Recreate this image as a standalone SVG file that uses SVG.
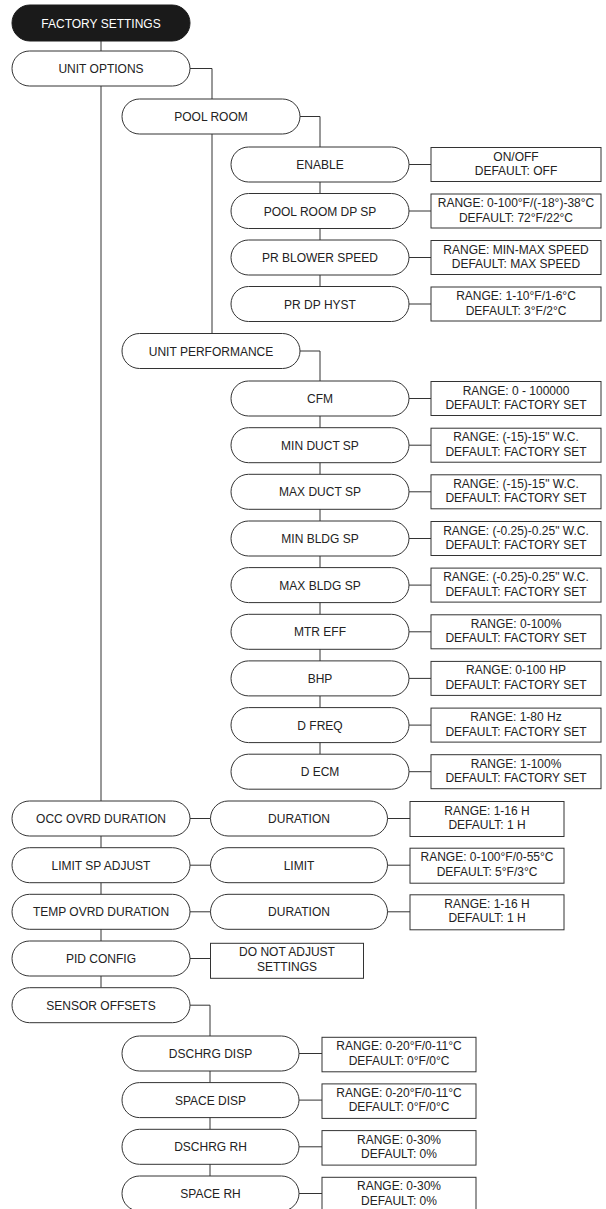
<svg xmlns="http://www.w3.org/2000/svg" width="606" height="1209" viewBox="0 0 606 1209">
<style>
.pill{fill:#fff;stroke:#333;stroke-width:1}
.box{fill:#fff;stroke:#333;stroke-width:1}
.dark{fill:#1a1a1a;stroke:#1a1a1a;stroke-width:1}
.t{font-family:"Liberation Sans",Arial,sans-serif;font-size:12px;fill:#222;text-anchor:middle}
.w{fill:#fff}
.c{fill:none;stroke:#333;stroke-width:1}
</style>
<rect width="606" height="1209" fill="#fff"/>
<g id="connectors">
<path class="c" d="M101,41V51"/>
<path class="c" d="M190,68.5H212V333.5"/>
<path class="c" d="M101,86V987.7"/>
<path class="c" d="M300,116.5H320V286.5"/>
<path class="c" d="M409,164.5H431M409,211H431M409,257.5H431M409,304H431"/>
<path class="c" d="M300,351H320V754.2"/>
<path class="c" d="M409,398.5H431M409,445.2H431M409,491.8H431M409,538.5H431M409,585.1H431M409,631.8H431M409,678.4H431M409,725.1H431M409,771.7H431"/>
<path class="c" d="M190,818.5H210.5M387.5,818.5H410M190,865.2H210.5M387.5,865.2H410M190,911.8H210.5M387.5,911.8H410M190,958.5H210.5"/>
<path class="c" d="M190,1005.2H210V1176"/>
<path class="c" d="M299,1053.5H322M299,1100.1H322M299,1146.8H322M299,1193.5H322"/>
</g>
<g id="factory-settings"><rect class="dark" x="12" y="5" width="178" height="36" rx="18"/><text class="t w" x="101" y="27.5">FACTORY SETTINGS</text></g>
<g id="unit-options"><rect class="pill" x="12" y="51" width="178" height="35" rx="17.5"/><text class="t" x="101" y="73">UNIT OPTIONS</text></g>
<g id="pool-room"><rect class="pill" x="122" y="99" width="178" height="35" rx="17.5"/><text class="t" x="211" y="121">POOL ROOM</text></g>
<g id="enable"><rect class="pill" x="231" y="147" width="178" height="35" rx="17.5"/><text class="t" x="320" y="169">ENABLE</text></g>
<g id="enable-val"><rect class="box" x="431" y="147.5" width="170" height="34"/><text class="t" x="516" y="160.5">ON/OFF</text><text class="t" x="516" y="175">DEFAULT: OFF</text></g>
<g id="pool-room-dp-sp"><rect class="pill" x="231" y="193.5" width="178" height="35" rx="17.5"/><text class="t" x="320" y="215.5">POOL ROOM DP SP</text></g>
<g id="pool-room-dp-sp-val"><rect class="box" x="431" y="194" width="170" height="34"/><text class="t" x="516" y="207">RANGE: 0-100°F/(-18°)-38°C</text><text class="t" x="516" y="221.5">DEFAULT: 72°F/22°C</text></g>
<g id="pr-blower-speed"><rect class="pill" x="231" y="240" width="178" height="35" rx="17.5"/><text class="t" x="320" y="262">PR BLOWER SPEED</text></g>
<g id="pr-blower-speed-val"><rect class="box" x="431" y="240.5" width="170" height="34"/><text class="t" x="516" y="253.5">RANGE: MIN-MAX SPEED</text><text class="t" x="516" y="268">DEFAULT: MAX SPEED</text></g>
<g id="pr-dp-hyst"><rect class="pill" x="231" y="286.5" width="178" height="35" rx="17.5"/><text class="t" x="320" y="308.5">PR DP HYST</text></g>
<g id="pr-dp-hyst-val"><rect class="box" x="431" y="287" width="170" height="34"/><text class="t" x="516" y="300">RANGE: 1-10°F/1-6°C</text><text class="t" x="516" y="314.5">DEFAULT: 3°F/2°C</text></g>
<g id="unit-performance"><rect class="pill" x="122" y="333.5" width="178" height="35" rx="17.5"/><text class="t" x="211" y="355.5">UNIT PERFORMANCE</text></g>
<g id="cfm"><rect class="pill" x="231" y="381" width="178" height="35" rx="17.5"/><text class="t" x="320" y="403">CFM</text></g>
<g id="cfm-val"><rect class="box" x="431" y="381.5" width="170" height="34"/><text class="t" x="516" y="394.5">RANGE: 0 - 100000</text><text class="t" x="516" y="409">DEFAULT: FACTORY SET</text></g>
<g id="min-duct-sp"><rect class="pill" x="231" y="427.7" width="178" height="35" rx="17.5"/><text class="t" x="320" y="449.7">MIN DUCT SP</text></g>
<g id="min-duct-sp-val"><rect class="box" x="431" y="428.2" width="170" height="34"/><text class="t" x="516" y="441.2">RANGE: (-15)-15" W.C.</text><text class="t" x="516" y="455.7">DEFAULT: FACTORY SET</text></g>
<g id="max-duct-sp"><rect class="pill" x="231" y="474.3" width="178" height="35" rx="17.5"/><text class="t" x="320" y="496.3">MAX DUCT SP</text></g>
<g id="max-duct-sp-val"><rect class="box" x="431" y="474.8" width="170" height="34"/><text class="t" x="516" y="487.8">RANGE: (-15)-15" W.C.</text><text class="t" x="516" y="502.3">DEFAULT: FACTORY SET</text></g>
<g id="min-bldg-sp"><rect class="pill" x="231" y="521" width="178" height="35" rx="17.5"/><text class="t" x="320" y="543">MIN BLDG SP</text></g>
<g id="min-bldg-sp-val"><rect class="box" x="431" y="521.5" width="170" height="34"/><text class="t" x="516" y="534.5">RANGE: (-0.25)-0.25" W.C.</text><text class="t" x="516" y="549">DEFAULT: FACTORY SET</text></g>
<g id="max-bldg-sp"><rect class="pill" x="231" y="567.6" width="178" height="35" rx="17.5"/><text class="t" x="320" y="589.6">MAX BLDG SP</text></g>
<g id="max-bldg-sp-val"><rect class="box" x="431" y="568.1" width="170" height="34"/><text class="t" x="516" y="581.1">RANGE: (-0.25)-0.25" W.C.</text><text class="t" x="516" y="595.6">DEFAULT: FACTORY SET</text></g>
<g id="mtr-eff"><rect class="pill" x="231" y="614.3" width="178" height="35" rx="17.5"/><text class="t" x="320" y="636.3">MTR EFF</text></g>
<g id="mtr-eff-val"><rect class="box" x="431" y="614.8" width="170" height="34"/><text class="t" x="516" y="627.8">RANGE: 0-100%</text><text class="t" x="516" y="642.3">DEFAULT: FACTORY SET</text></g>
<g id="bhp"><rect class="pill" x="231" y="660.9" width="178" height="35" rx="17.5"/><text class="t" x="320" y="682.9">BHP</text></g>
<g id="bhp-val"><rect class="box" x="431" y="661.4" width="170" height="34"/><text class="t" x="516" y="674.4">RANGE: 0-100 HP</text><text class="t" x="516" y="688.9">DEFAULT: FACTORY SET</text></g>
<g id="d-freq"><rect class="pill" x="231" y="707.6" width="178" height="35" rx="17.5"/><text class="t" x="320" y="729.6">D FREQ</text></g>
<g id="d-freq-val"><rect class="box" x="431" y="708.1" width="170" height="34"/><text class="t" x="516" y="721.1">RANGE: 1-80 Hz</text><text class="t" x="516" y="735.6">DEFAULT: FACTORY SET</text></g>
<g id="d-ecm"><rect class="pill" x="231" y="754.2" width="178" height="35" rx="17.5"/><text class="t" x="320" y="776.2">D ECM</text></g>
<g id="d-ecm-val"><rect class="box" x="431" y="754.7" width="170" height="34"/><text class="t" x="516" y="767.7">RANGE: 1-100%</text><text class="t" x="516" y="782.2">DEFAULT: FACTORY SET</text></g>
<g id="occ-ovrd-duration"><rect class="pill" x="12" y="801" width="178" height="35" rx="17.5"/><text class="t" x="101" y="823">OCC OVRD DURATION</text></g>
<g id="occ-duration"><rect class="pill" x="210.5" y="801" width="177" height="35" rx="17.5"/><text class="t" x="299" y="823">DURATION</text></g>
<g id="occ-duration-val"><rect class="box" x="410" y="801.5" width="154" height="35"/><text class="t" x="487" y="814.5">RANGE: 1-16 H</text><text class="t" x="487" y="829">DEFAULT: 1 H</text></g>
<g id="limit-sp-adjust"><rect class="pill" x="12" y="847.7" width="178" height="35" rx="17.5"/><text class="t" x="101" y="869.7">LIMIT SP ADJUST</text></g>
<g id="limit"><rect class="pill" x="210.5" y="847.7" width="177" height="35" rx="17.5"/><text class="t" x="299" y="869.7">LIMIT</text></g>
<g id="limit-val"><rect class="box" x="410" y="848.2" width="154" height="35"/><text class="t" x="487" y="861.2">RANGE: 0-100°F/0-55°C</text><text class="t" x="487" y="875.7">DEFAULT: 5°F/3°C</text></g>
<g id="temp-ovrd-duration"><rect class="pill" x="12" y="894.3" width="178" height="35" rx="17.5"/><text class="t" x="101" y="916.3">TEMP OVRD DURATION</text></g>
<g id="temp-duration"><rect class="pill" x="210.5" y="894.3" width="177" height="35" rx="17.5"/><text class="t" x="299" y="916.3">DURATION</text></g>
<g id="temp-duration-val"><rect class="box" x="410" y="894.8" width="154" height="35"/><text class="t" x="487" y="907.8">RANGE: 1-16 H</text><text class="t" x="487" y="922.3">DEFAULT: 1 H</text></g>
<g id="pid-config"><rect class="pill" x="12" y="941" width="178" height="35" rx="17.5"/><text class="t" x="101" y="963">PID CONFIG</text></g>
<g id="pid-config-val"><rect class="box" x="210.5" y="943.3" width="153" height="35"/><text class="t" x="287" y="956.3">DO NOT ADJUST</text><text class="t" x="287" y="970.8">SETTINGS</text></g>
<g id="sensor-offsets"><rect class="pill" x="12" y="987.7" width="178" height="35" rx="17.5"/><text class="t" x="101" y="1009.7">SENSOR OFFSETS</text></g>
<g id="dschrg-disp"><rect class="pill" x="122" y="1036" width="177" height="35" rx="17.5"/><text class="t" x="210.5" y="1058">DSCHRG DISP</text></g>
<g id="dschrg-disp-val"><rect class="box" x="322" y="1037.3" width="154" height="34.5"/><text class="t" x="399" y="1050.3">RANGE: 0-20°F/0-11°C</text><text class="t" x="399" y="1064.8">DEFAULT: 0°F/0°C</text></g>
<g id="space-disp"><rect class="pill" x="122" y="1082.6" width="177" height="35" rx="17.5"/><text class="t" x="210.5" y="1104.6">SPACE DISP</text></g>
<g id="space-disp-val"><rect class="box" x="322" y="1083.9" width="154" height="34.5"/><text class="t" x="399" y="1096.9">RANGE: 0-20°F/0-11°C</text><text class="t" x="399" y="1111.4">DEFAULT: 0°F/0°C</text></g>
<g id="dschrg-rh"><rect class="pill" x="122" y="1129.3" width="177" height="35" rx="17.5"/><text class="t" x="210.5" y="1151.3">DSCHRG RH</text></g>
<g id="dschrg-rh-val"><rect class="box" x="322" y="1130.6" width="154" height="34.5"/><text class="t" x="399" y="1143.6">RANGE: 0-30%</text><text class="t" x="399" y="1158.1">DEFAULT: 0%</text></g>
<g id="space-rh"><rect class="pill" x="122" y="1176" width="177" height="35" rx="17.5"/><text class="t" x="210.5" y="1198">SPACE RH</text></g>
<g id="space-rh-val"><rect class="box" x="322" y="1177.3" width="154" height="34.5"/><text class="t" x="399" y="1190.3">RANGE: 0-30%</text><text class="t" x="399" y="1204.8">DEFAULT: 0%</text></g>
</svg>
